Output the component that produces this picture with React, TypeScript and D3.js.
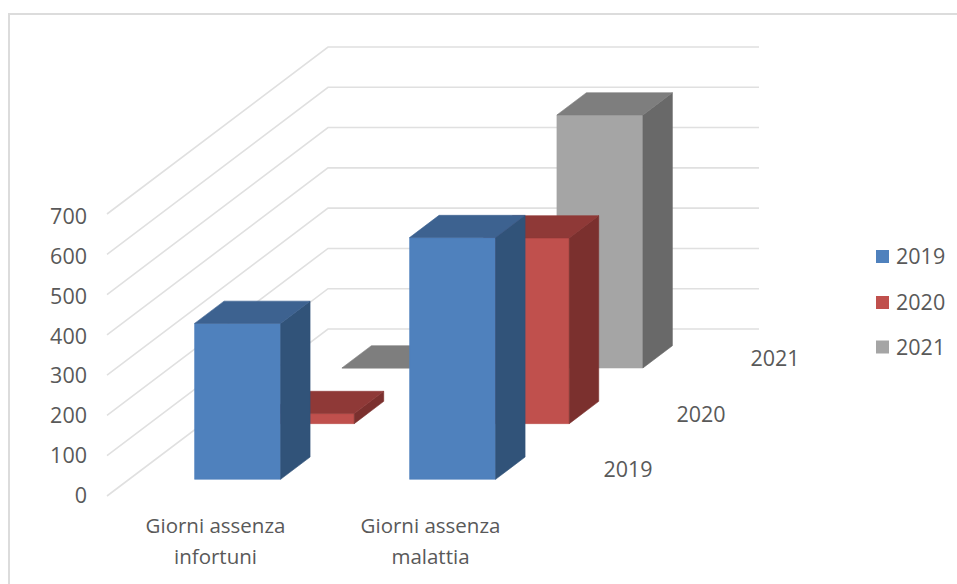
import React from "react";
import * as d3 from "d3";

const categories = ["Giorni assenza infortuni", "Giorni assenza malattia"];
const categoryLines = [["Giorni assenza", "infortuni"], ["Giorni assenza", "malattia"]];
const years = ["2019", "2020", "2021"];
const values2019 = [387, 600];
const values2020 = [25, 461];
const values2021 = [0, 628];
const yTicks = [0, 100, 200, 300, 400, 500, 600, 700];

const seriesValues = [values2019, values2020, values2021];
const faceColors = ["#4f81bd", "#c0504d", "#a5a5a5"];
const topColors = ["#3d6290", "#8f3937", "#7e7e7e"];
const sideColors = ["#315379", "#7b302e", "#696969"];

const GRID = "#e0e0e0";
const TEXT = "#595959";
const FONT = "'Open Sans', sans-serif";
const NUMBER_SIZE = 21.5;
const LABEL_SIZE = 20.5;

// Oblique projection of the chart's floor: category runs right, depth runs up and right.
const catBand = d3.scaleBand<string>().domain(categories).range([1, 431]).paddingInner(0.6).paddingOuter(0.3);
const depthBand = d3.scaleBand<string>().domain(years).range([0, 1]).paddingInner(0.6).paddingOuter(0.3);
const valueHeight = d3.scaleLinear().domain([0, 700]).range([0, 282]);
const labelY = d3.scaleLinear().domain([0, 700]).range([495.5, 216.5]);

const ORIGIN_X = 107;
const ORIGIN_Y = 496;
const DEPTH_X = 221;
const DEPTH_Y = 167;

function project(x: number, value: number, z: number): [number, number] {
  return [ORIGIN_X + x + z * DEPTH_X, ORIGIN_Y - z * DEPTH_Y - valueHeight(value)];
}

const poly = (pts: [number, number][]) => d3.line()(pts) + "Z";

function Bar({ cat, year, value, s }: { cat: string; year: string; value: number; s: number }) {
  const x0 = catBand(cat)!;
  const x1 = x0 + catBand.bandwidth();
  const z0 = depthBand(year)!;
  const z1 = z0 + depthBand.bandwidth();
  const face = poly([project(x0, 0, z0), project(x1, 0, z0), project(x1, value, z0), project(x0, value, z0)]);
  const side = poly([project(x1, 0, z0), project(x1, 0, z1), project(x1, value, z1), project(x1, value, z0)]);
  const top = poly([project(x0, value, z0), project(x1, value, z0), project(x1, value, z1), project(x0, value, z1)]);
  // A hairline in each face's own colour closes the seams between adjoining faces.
  return (
    <g strokeWidth={0.6} strokeLinejoin="round">
      <path d={face} fill={faceColors[s]} stroke={faceColors[s]} />
      <path d={side} fill={sideColors[s]} stroke={sideColors[s]} />
      <path d={top} fill={topColors[s]} stroke={topColors[s]} />
    </g>
  );
}

const depthLabelPos = [
  { x: 628, y: 477 },
  { x: 701, y: 422 },
  { x: 775, y: 366 },
];
const legendY = [256.5, 302.5, 347];

export default function App() {
  const back = years.map((_, i) => i).reverse();
  return (
    <svg width={957} height={584} style={{ position: "absolute", left: 0, top: 0, background: "#fff" }} fontFamily={FONT}>
      <path d="M9,584V14H957" fill="none" stroke="#dcdcdc" strokeWidth={2} />

      {yTicks.map((t) => {
        const a = project(0, t, 0);
        const b = project(0, t, 1);
        const c = project(431, t, 1);
        return <path key={t} d={d3.line()([a, b, c])!} fill="none" stroke={GRID} strokeWidth={1.6} />;
      })}

      {yTicks.map((t) => (
        <text key={t} x={87} y={labelY(t)} dy="0.35em" textAnchor="end" fontSize={NUMBER_SIZE} fill={TEXT}>
          {t}
        </text>
      ))}

      {back.map((s) =>
        categories.map((cat, c) => (
          <Bar key={years[s] + cat} cat={cat} year={years[s]} value={seriesValues[s][c]} s={s} />
        ))
      )}

      {categories.map((cat, c) => {
        const cx = project(catBand(cat)! + catBand.bandwidth() / 2, 0, 0)[0];
        return categoryLines[c].map((line, l) => (
          <text key={line + l} x={cx} y={533 + l * 31} textAnchor="middle" fontSize={LABEL_SIZE} fill={TEXT}>
            {line}
          </text>
        ));
      })}

      {years.map((y, i) => (
        <text key={y} x={depthLabelPos[i].x} y={depthLabelPos[i].y} textAnchor="middle" fontSize={NUMBER_SIZE} fill={TEXT}>
          {y}
        </text>
      ))}

      {years.map((y, i) => (
        <g key={y}>
          <rect x={876} y={legendY[i] - 6.5} width={13} height={13} fill={faceColors[i]} />
          <text x={896} y={legendY[i]} dy="0.35em" fontSize={NUMBER_SIZE} fill={TEXT}>
            {y}
          </text>
        </g>
      ))}
    </svg>
  );
}
